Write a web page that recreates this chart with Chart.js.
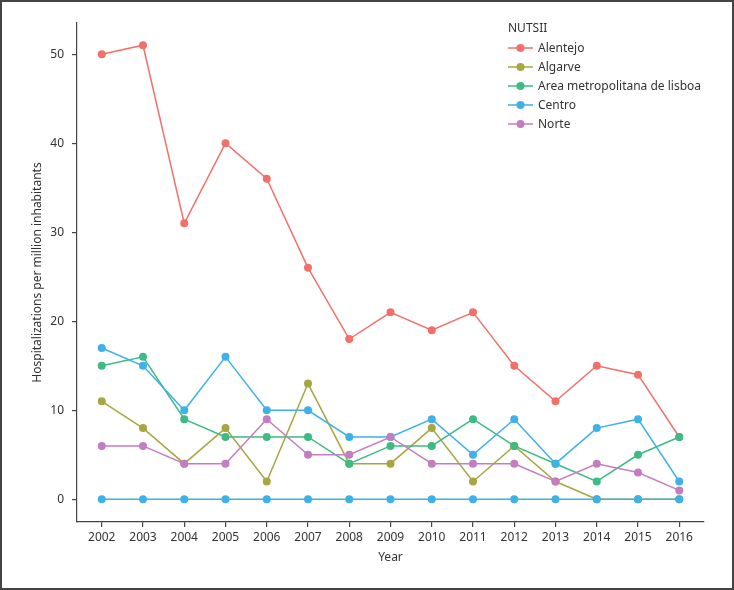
<!DOCTYPE html>
<html>
<head>
<meta charset="utf-8">
<script src="https://cdn.jsdelivr.net/npm/chart.js@4.4.1/dist/chart.umd.min.js"></script>
<style>
  body { margin: 0; background: #fff; }
  #wrap { position: relative; width: 734px; height: 590px; }
  #frame { position: absolute; left: 0; top: 0; width: 734px; height: 590px;
           box-sizing: border-box; border: 2px solid #444; pointer-events: none; }
  canvas { position: absolute; left: 0; top: 0; }
</style>
</head>
<body>
<div id="wrap">
  <canvas id="chart" width="734" height="590"></canvas>
  <div id="frame"></div>
</div>
<script>
// -------- data --------
const years = [2002,2003,2004,2005,2006,2007,2008,2009,2010,2011,2012,2013,2014,2015,2016];
const alentejo = [50,51,31,40,36,26,18,21,19,21,15,11,15,14,7];
const algarve  = [11,8,4,8,2,13,4,4,8,2,6,2,0,0,0];
const lisboa   = [15,16,9,7,7,7,4,6,6,9,6,4,2,5,7];
const centro   = [17,15,10,16,10,10,7,7,9,5,9,4,8,9,2];
const norte    = [6,6,4,4,9,5,5,7,4,4,4,2,4,3,1];
const zeroRow  = [0,0,0,0,0,0,0,0,0,0,0,0,0,0,0];   // extra Centro rows at 0
const yTicks   = [0,10,20,30,40,50];

const regions = ['Alentejo','Algarve','Area metropolitana de lisboa','Centro','Norte'];
const colors  = ['#F2706A','#A8A640','#3DBB82','#3DB1E8','#C47DC0'];
const series  = [alentejo, algarve, lisboa, centro, norte];

const FONT = '"Noto Sans", "Open Sans", sans-serif';
const TXT = '#333';
const AX = '#444';

function makeSet(label, vals, color, order){
    return {
        label: label,
        data: years.map((y,i)=>({x:y, y:vals[i]})),
        borderColor: color, backgroundColor: color,
        borderWidth: 1.5, pointRadius: 4, pointHoverRadius: 4,
        pointBorderWidth: 0, tension: 0, order: order
    };
}

const datasets = series.map((s,i)=>makeSet(regions[i], s, colors[i], 10 - i));
datasets.push(makeSet('Centro ', zeroRow, colors[3], 0));

// --------- legend (drawn on top right) ---------
const legendPlugin = {
    id: 'nutsLegend',
    afterDraw(chart){
        const ctx = chart.ctx;
        ctx.save();
        ctx.font = '12px ' + FONT;
        ctx.fillStyle = TXT;
        ctx.textBaseline = 'middle';
        ctx.textAlign = 'left';
        ctx.fillText('NUTSII', 508, 29);
        regions.forEach((r,i)=>{
            const y = 48 + i*19;
            ctx.strokeStyle = colors[i];
            ctx.lineWidth = 1.5;
            ctx.beginPath(); ctx.moveTo(508, y); ctx.lineTo(533, y); ctx.stroke();
            ctx.fillStyle = colors[i];
            ctx.beginPath(); ctx.arc(520.5, y, 4, 0, Math.PI*2); ctx.fill();
            ctx.fillStyle = TXT;
            ctx.fillText(r, 538, y + 0.5);
        });
        ctx.restore();
    }
};

new Chart(document.getElementById('chart'), {
    type: 'line',
    data: { datasets: datasets },
    options: {
        responsive: false,
        animation: false,
        layout: { padding: { left: 0, top: 23, right: 30, bottom: 0 } },
        plugins: { legend: { display: false }, tooltip: { enabled: false } },
        scales: {
            x: {
                type: 'linear', min: 2001.4, max: 2016.6,
                afterBuildTicks: s => { s.ticks = years.map(v=>({value:v})); },
                afterFit: s => { s.height = 68; },
                grid: { drawOnChartArea: false, drawTicks: true, tickLength: 5, color: AX, lineWidth: 1.2 },
                border: { display: true, color: AX, width: 1.2 },
                ticks: { color: TXT, font: { family: FONT, size: 12 }, padding: 3, maxRotation: 0,
                         callback: v => String(v) },
                title: { display: true, text: 'Year', color: TXT, font: { family: FONT, size: 12 },
                         padding: { top: 0, bottom: 25 } }
            },
            y: {
                type: 'linear', min: -2.55, max: 53.5,
                afterBuildTicks: s => { s.ticks = yTicks.map(v=>({value:v})); },
                afterFit: s => { s.width = 77; },
                grid: { drawOnChartArea: false, drawTicks: true, tickLength: 5, color: AX, lineWidth: 1.2 },
                border: { display: true, color: AX, width: 1.2 },
                ticks: { color: TXT, font: { family: FONT, size: 12 }, padding: 8,
                         callback: v => String(v) },
                title: { display: true, text: 'Hospitalizations per million inhabitants', color: TXT,
                         font: { family: FONT, size: 12 }, padding: { top: 30, bottom: 0 } }
            }
        }
    },
    plugins: [legendPlugin]
});
</script>
</body>
</html>
